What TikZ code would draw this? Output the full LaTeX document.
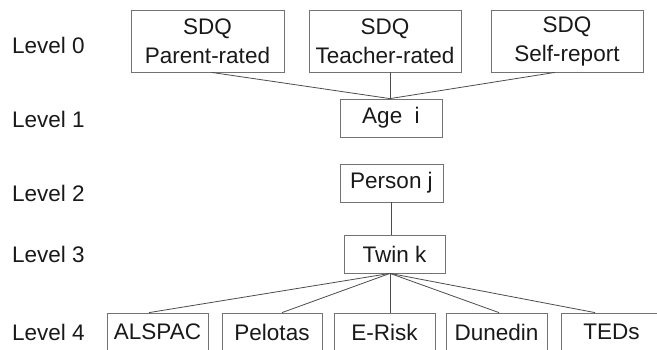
\documentclass[tikz,border=0pt]{standalone}
\usepackage{fontspec}
\setmainfont{Liberation Sans}
\begin{document}
\begin{tikzpicture}[x=1pt,y=-1pt,
  box/.style={draw=black!55,line width=0.8pt,inner sep=0pt,align=center,
    font=\fontsize{22.5}{29}\selectfont,text=black!90},
  lvl/.style={anchor=base west,inner sep=0pt,font=\fontsize{22.5}{26}\selectfont,text=black!90},
  conn/.style={draw=black!70,line width=0.8pt}]
\useasboundingbox (0,0) rectangle (657,349);
\clip (0,0) rectangle (657,349);
% level labels
\node[lvl] (l0) at (12,53) {Level 0};
\node[lvl] (l1) at (12,127) {Level 1};
\node[lvl] (l2) at (12,201) {Level 2};
\node[lvl] (l3) at (12,262) {Level 3};
\node[lvl] (l4) at (12,340) {Level 4};
% level 0
\node[box,minimum width=153,minimum height=62] (par) at (207.5,41) {SDQ\\Parent-rated};
\node[box,minimum width=152,minimum height=62] (tea) at (385,41) {SDQ\\Teacher-rated};
\node[box,minimum width=152,minimum height=62] (sel) at (567,41) {SDQ\\Self-report};
% levels 1-3
\node[box,minimum width=102,minimum height=38] (age) at (391,118) {Age\ \ i};
\node[box,minimum width=103,minimum height=38] (per) at (391.5,183) {Person j};
\node[box,minimum width=101,minimum height=38] (twi) at (394.5,254) {Twin k};
% level 4
\node[box,minimum width=101,minimum height=38] (als) at (157.5,332) {ALSPAC};
\node[box,minimum width=100,minimum height=38] (pel) at (272,332) {Pelotas};
\node[box,minimum width=101,minimum height=38] (eri) at (384.5,332) {E-Risk};
\node[box,minimum width=101,minimum height=38] (dun) at (496.5,332) {Dunedin};
\node[box,minimum width=101,minimum height=38] (ted) at (611.5,332) {TEDs};
% connectors
\coordinate (agetop) at ([xshift=-1]age.north);
\draw[conn] ([xshift=4]par.south) -- (agetop);
\draw[conn] (agetop |- tea.south) -- (agetop);
\draw[conn] ([xshift=-12]sel.south) -- (agetop);
\coordinate (pj) at (per.south);
\draw[conn] (pj) -- (pj |- twi.north);
\coordinate (tk) at ([xshift=-4.5]twi.south);
\draw[conn] (tk) -- ([xshift=-8.5]als.north);
\draw[conn] (tk) -- ([xshift=10]pel.north);
\draw[conn] (tk) -- (tk |- eri.north);
\draw[conn] (tk) -- ([xshift=2.5]dun.north);
\draw[conn] (tk) -- ([xshift=-16.5]ted.north);
\end{tikzpicture}
\end{document}
